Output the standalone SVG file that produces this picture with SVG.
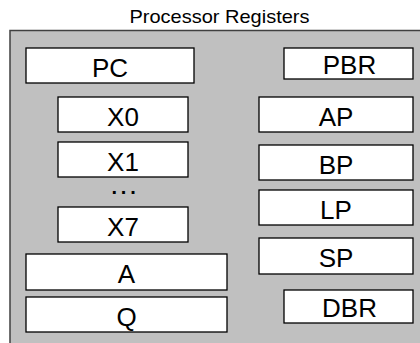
<svg xmlns="http://www.w3.org/2000/svg" width="420" height="343" viewBox="0 0 420 343">
<style>
.reg{fill:#fff;stroke:#000;stroke-width:1.3}
.lbl{font-family:"Liberation Sans",Arial,sans-serif;font-size:26px;text-anchor:middle;fill:#000}
.title{font-family:"Liberation Sans",Arial,sans-serif;font-size:19px;text-anchor:middle;fill:#000}
.dots{font-family:"Liberation Sans",Arial,sans-serif;font-size:20px;font-weight:bold;fill:#000}
</style>
<rect x="0" y="0" width="420" height="343" fill="#fff"/>
<text class="title" x="219.5" y="23" textLength="180" lengthAdjust="spacingAndGlyphs">Processor Registers</text>
<g id="frame"><rect x="10" y="30.5" width="420" height="330" fill="#c0c0c0" stroke="#404040" stroke-width="1.5"/></g>
<g id="connectors"></g>
<g id="PC"><rect class="reg" x="26" y="48" width="168" height="35"/><text class="lbl" x="110" y="77">PC</text></g>
<g id="PBR"><rect class="reg" x="284" y="48" width="129" height="31"/><text class="lbl" x="349.5" y="74">PBR</text></g>
<g id="X0"><rect class="reg" x="58" y="97" width="130" height="35"/><text class="lbl" x="123" y="126">X0</text></g>
<g id="AP"><rect class="reg" x="259" y="97" width="154" height="35"/><text class="lbl" x="336" y="126">AP</text></g>
<g id="X1"><rect class="reg" x="58" y="142" width="130" height="35"/><text class="lbl" x="123" y="171">X1</text></g>
<g id="BP"><rect class="reg" x="259" y="145" width="154" height="35"/><text class="lbl" x="336" y="174">BP</text></g>
<g id="dots"><text class="dots" x="111.5" y="194" letter-spacing="3.8">...</text></g>
<g id="X7"><rect class="reg" x="58" y="207" width="130" height="35"/><text class="lbl" x="123" y="236">X7</text></g>
<g id="LP"><rect class="reg" x="259" y="190" width="154" height="35"/><text class="lbl" x="336" y="219">LP</text></g>
<g id="SP"><rect class="reg" x="259" y="238" width="154" height="36"/><text class="lbl" x="336" y="267">SP</text></g>
<g id="A"><rect class="reg" x="26" y="254" width="201" height="36"/><text class="lbl" x="126.5" y="283">A</text></g>
<g id="Q"><rect class="reg" x="26" y="297" width="201" height="35"/><text class="lbl" x="126.5" y="326">Q</text></g>
<g id="DBR"><rect class="reg" x="284" y="290" width="129" height="33"/><text class="lbl" x="349.5" y="317">DBR</text></g>
</svg>
